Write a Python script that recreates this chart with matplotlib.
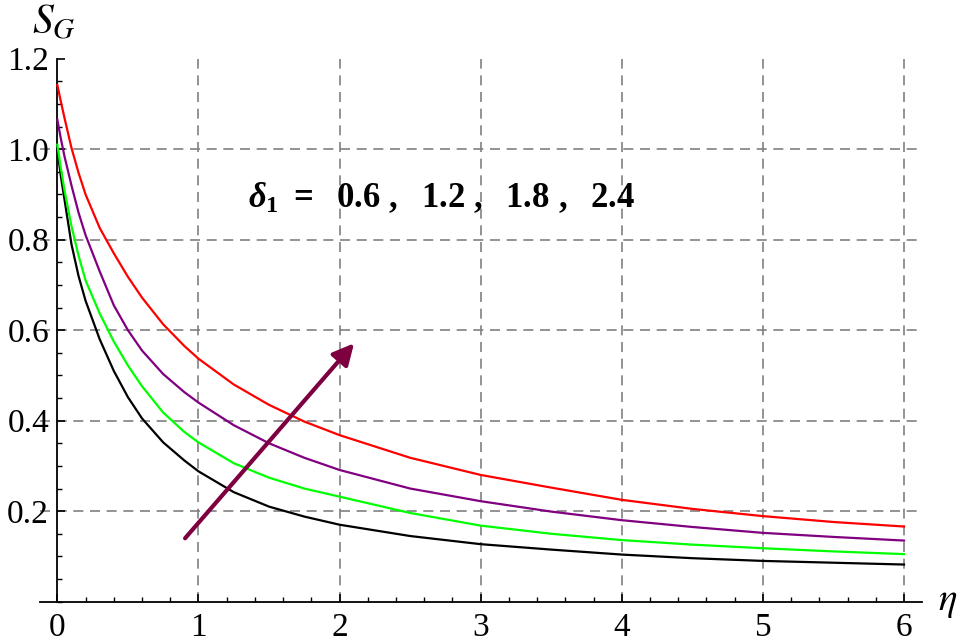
import numpy as np
import matplotlib
matplotlib.use("Agg")
import matplotlib.pyplot as plt

plt.rcParams['font.family'] = ['Liberation Serif', 'DejaVu Serif']
plt.rcParams['mathtext.fontset'] = 'custom'
plt.rcParams['mathtext.rm'] = 'Liberation Serif:bold'
plt.rcParams['mathtext.it'] = 'Liberation Serif:italic:bold'
plt.rcParams['mathtext.bf'] = 'Liberation Serif:bold'

# values
eta = [0, 0.025, 0.05, 0.1, 0.15, 0.2, 0.3, 0.4, 0.5, 0.6, 0.75, 0.9, 1.0,
       1.25, 1.5, 1.75, 2.0, 2.5, 3.0, 3.5, 4.0, 4.5, 5.0, 5.5, 6.0]
sg_d24 = [1.142, 1.105, 1.07, 1.003, 0.948, 0.90, 0.826, 0.77, 0.718, 0.672,
          0.613, 0.565, 0.537, 0.48, 0.435, 0.398, 0.368, 0.318, 0.28, 0.252,
          0.225, 0.205, 0.189, 0.176, 0.166]
sg_d18 = [1.065, 1.023, 0.985, 0.92, 0.86, 0.81, 0.73, 0.655, 0.60, 0.555,
          0.503, 0.463, 0.44, 0.39, 0.35, 0.318, 0.291, 0.25, 0.222, 0.199,
          0.18, 0.165, 0.152, 0.143, 0.135]
sg_d12 = [1.01, 0.958, 0.91, 0.83, 0.765, 0.71, 0.637, 0.575, 0.522, 0.476,
          0.418, 0.375, 0.352, 0.306, 0.274, 0.25, 0.232, 0.196, 0.168, 0.15,
          0.136, 0.126, 0.118, 0.111, 0.105]
sg_d06 = [1.0, 0.94, 0.89, 0.79, 0.72, 0.665, 0.58, 0.51, 0.452, 0.405,
          0.352, 0.312, 0.288, 0.242, 0.21, 0.188, 0.17, 0.145, 0.127, 0.115,
          0.104, 0.096, 0.09, 0.086, 0.082]

xticks = [0, 1, 2, 3, 4, 5, 6]
yticks = [0.2, 0.4, 0.6, 0.8, 1.0, 1.2]
arrow_tail = (0.905, 0.14)
arrow_head = (2.103, 0.571)

fig = plt.figure(figsize=(9.67, 6.44), dpi=100)
ax = fig.add_axes([0.0418, 0.0658, 0.912, 0.843])
ax.set_xlim(-0.12, 6.13)
ax.set_ylim(0, 1.2)

# dashed grid
for gx in xticks[1:]:
    ax.axvline(gx, color='#808080', lw=1.2, dashes=(6, 4), zorder=1)
for gy in yticks[:-1]:
    ax.axhline(gy, color='#808080', lw=1.2, dashes=(6, 4), zorder=1)

ax.plot(eta, sg_d06, color='black', lw=1.6, zorder=3)
ax.plot(eta, sg_d12, color='#00FF00', lw=1.6, zorder=3)
ax.plot(eta, sg_d18, color='#800080', lw=1.6, zorder=3)
ax.plot(eta, sg_d24, color='#FF0000', lw=1.6, zorder=3)

ax.annotate('', xy=arrow_head, xytext=arrow_tail,
            arrowprops=dict(arrowstyle='-|>', color='#7F0040', lw=3,
                            mutation_scale=32, shrinkA=0, shrinkB=0),
            zorder=4)

ax.text(1.35, 0.892,
        r'$\delta_1\ =\ \ 0.6\ ,\ \ 1.2\ ,\ \ 1.8\ ,\ \ 2.4$',
        fontsize=25, va='center', ha='left', math_fontfamily='custom')

# Mathematica-like axes
ax.spines['top'].set_visible(False)
ax.spines['right'].set_visible(False)
ax.spines['left'].set_position(('data', 0))
ax.spines['bottom'].set_position(('data', 0))
ax.spines['left'].set_linewidth(1.3)
ax.spines['bottom'].set_linewidth(1.3)
ax.spines['left'].set_bounds(0, 1.2)

ax.set_xticks(xticks)
ax.set_yticks(yticks)
ax.set_xticklabels([str(t) for t in xticks])
ax.set_yticklabels(['%.1f' % t for t in yticks])
ax.set_xticks(np.arange(0, 6.01, 0.2), minor=True)
ax.set_yticks(np.arange(0, 1.21, 0.05), minor=True)
ax.tick_params(which='major', direction='in', length=6, width=1.2,
               labelsize=24)
ax.tick_params(which='minor', direction='in', length=3.5, width=1.0)
ax.tick_params(axis='x', pad=8)
ax.tick_params(axis='y', pad=6)

fig.text(54 / 967, 1 - 23 / 644, r'$S_G$', fontsize=30, ha='center',
         va='center', math_fontfamily='stix')
fig.text(948 / 967, 1 - 602 / 644, r'$\eta$', fontsize=28, ha='center',
         va='center', math_fontfamily='stix')

fig.savefig('out.png', dpi=100)
